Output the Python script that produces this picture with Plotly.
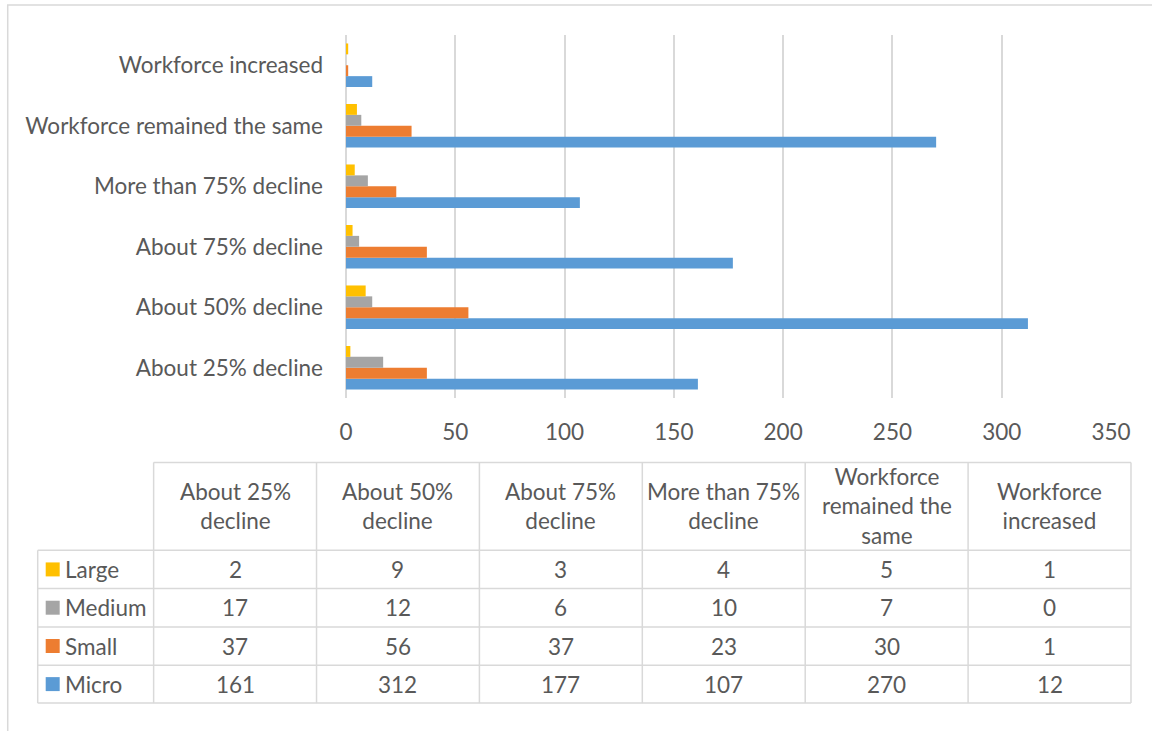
import plotly.graph_objects as go

categories = ["About 25% decline", "About 50% decline", "About 75% decline",
              "More than 75% decline", "Workforce remained the same", "Workforce increased"]
header_labels = ["About 25%<br>decline", "About 50%<br>decline", "About 75%<br>decline",
                 "More than 75%<br>decline", "Workforce<br>remained the<br>same", "Workforce<br>increased"]
series_names = ["Large", "Medium", "Small", "Micro"]
large = [2, 9, 3, 4, 5, 1]
medium = [17, 12, 6, 10, 7, 0]
small = [37, 56, 37, 23, 30, 1]
micro = [161, 312, 177, 107, 270, 12]
series_values = {"Large": large, "Medium": medium, "Small": small, "Micro": micro}
colors = {"Large": "#FFC000", "Medium": "#A5A5A5", "Small": "#ED7D31", "Micro": "#5B9BD5"}
x_ticks = [0, 50, 100, 150, 200, 250, 300, 350]

FONT = "Lato"
FS = 22.5
TXT = "#595959"
GRID = "#D9D9D9"

W, H = 1152, 731
L, R, T, B = 345.5, 1111, 35, 398.5

def px(x):
    return (x - L) / (R - L)

def py(y):
    return (B - y) / (B - T)

fig = go.Figure()
for name in ["Micro", "Small", "Medium", "Large"]:
    fig.add_trace(go.Bar(
        y=categories, x=series_values[name], name=name, orientation="h",
        marker=dict(color=colors[name], line=dict(width=0)),
        showlegend=False,
    ))

shapes = []
annotations = []

# outer frame
shapes.append(dict(type="rect", xref="paper", yref="paper",
                   x0=px(7), x1=px(1170), y0=py(5), y1=py(760),
                   line=dict(color=GRID, width=1.5), fillcolor="rgba(0,0,0,0)", layer="below"))

# table geometry
col_x = [37, 153, 316, 479, 642, 805, 968, 1131]
row_y = [463, 551, 589.3, 627.7, 666, 704]

def hline(x0, x1, y):
    shapes.append(dict(type="line", xref="paper", yref="paper",
                       x0=px(x0), x1=px(x1), y0=py(y), y1=py(y),
                       line=dict(color=GRID, width=1.5)))

def vline(x, y0, y1):
    shapes.append(dict(type="line", xref="paper", yref="paper",
                       x0=px(x), x1=px(x), y0=py(y0), y1=py(y1),
                       line=dict(color=GRID, width=1.5)))

hline(col_x[1], col_x[-1], row_y[0])
for y in row_y[1:]:
    hline(col_x[0], col_x[-1], y)
vline(col_x[0], row_y[1], row_y[-1])
for x in col_x[1:]:
    vline(x, row_y[0], row_y[-1])

# header texts
for i, lab in enumerate(header_labels):
    cx = (col_x[i + 1] + col_x[i + 2]) / 2
    cy = (row_y[0] + row_y[1]) / 2
    annotations.append(dict(xref="paper", yref="paper", x=px(cx), y=py(cy),
                            text=lab, showarrow=False, align="center",
                            xanchor="center", yanchor="middle",
                            font=dict(family=FONT, size=FS, color=TXT)))

# data rows
for r, name in enumerate(series_names):
    y0, y1 = row_y[r + 1], row_y[r + 2]
    cy = (y0 + y1) / 2
    # legend key
    shapes.append(dict(type="rect", xref="paper", yref="paper",
                       x0=px(45), x1=px(59), y0=py(cy - 7), y1=py(cy + 7),
                       line=dict(width=0), fillcolor=colors[name]))
    annotations.append(dict(xref="paper", yref="paper", x=px(62), y=py(cy),
                            text=name, showarrow=False, xanchor="left", yanchor="middle",
                            font=dict(family=FONT, size=FS, color=TXT)))
    for i, v in enumerate(series_values[name]):
        cx = (col_x[i + 1] + col_x[i + 2]) / 2
        annotations.append(dict(xref="paper", yref="paper", x=px(cx), y=py(cy),
                                text=str(v), showarrow=False, xanchor="center", yanchor="middle",
                                font=dict(family=FONT, size=FS, color=TXT)))

fig.update_layout(
    width=W, height=H,
    margin=dict(l=L, r=W - R, t=T, b=H - B, pad=0),
    paper_bgcolor="white", plot_bgcolor="white",
    barmode="group", bargap=0.28, bargroupgap=0,
    shapes=shapes, annotations=annotations,
    font=dict(family=FONT, color=TXT),
    xaxis=dict(range=[0, 350], tickvals=x_ticks, showgrid=True, gridcolor=GRID, gridwidth=1.5,
               zeroline=True, zerolinecolor=GRID, zerolinewidth=1.5,
               showline=False, ticks="", tickfont=dict(family=FONT, size=FS, color=TXT),
               ticklabelstandoff=18, fixedrange=True),
    yaxis=dict(categoryorder="array", categoryarray=categories, showgrid=False,
               zeroline=False, showline=False, ticks="",
               tickfont=dict(family=FONT, size=FS, color=TXT),
               ticklabelstandoff=22, fixedrange=True),
)

fig.write_html("out.html", config={"displayModeBar": False},
               post_script="document.body.style.margin='0';document.body.style.overflow='hidden';")
